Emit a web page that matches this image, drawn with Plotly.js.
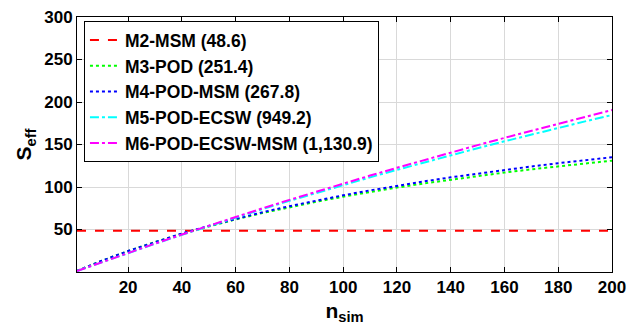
<!DOCTYPE html>
<html>
<head>
<meta charset="utf-8">
<script src="https://cdn.plot.ly/plotly-3.0.1.min.js"></script>
<style>html,body{margin:0;padding:0;background:#fff;}#chart{width:628px;height:334px;}</style>
</head>
<body>
<div id="chart"></div>
<script>
// Data
const nSim = [1, 10, 20, 30, 40, 50, 60, 70, 80, 90, 100, 110, 120, 130, 140, 150, 160, 170, 180, 190, 200];
const m2MSM = [48.6, 48.6, 48.6, 48.6, 48.6, 48.6, 48.6, 48.6, 48.6, 48.6, 48.6, 48.6, 48.6, 48.6, 48.6, 48.6, 48.6, 48.6, 48.6, 48.6, 48.6];
const m3POD = [1.36, 12.97, 24.67, 35.28, 44.93, 53.76, 61.87, 69.34, 76.24, 82.64, 88.58, 94.13, 99.30, 104.15, 108.70, 112.97, 117.00, 120.80, 124.39, 127.78, 131.01];
const m4PODMSM = [1.35, 12.96, 24.72, 35.44, 45.26, 54.28, 62.59, 70.29, 77.43, 84.07, 90.26, 96.05, 101.47, 106.56, 111.35, 115.86, 120.12, 124.15, 127.96, 131.58, 135.01];
const m5PODECSW = [1.15, 11.33, 22.39, 33.20, 43.75, 54.07, 64.15, 74.01, 83.65, 93.08, 102.31, 111.34, 120.18, 128.83, 137.31, 145.61, 153.75, 161.72, 169.53, 177.19, 184.70];
const m6PODECSWMSM = [1.14, 11.35, 22.47, 33.37, 44.06, 54.54, 64.83, 74.92, 84.82, 94.53, 104.07, 113.43, 122.62, 131.65, 140.52, 149.24, 157.79, 166.21, 174.48, 182.61, 190.60];
const seriesNames = ["M2-MSM (48.6)", "M3-POD (251.4)", "M4-POD-MSM (267.8)", "M5-POD-ECSW (949.2)", "M6-POD-ECSW-MSM (1,130.9)"];
const xTicks = [20, 40, 60, 80, 100, 120, 140, 160, 180, 200];
const yTicks = [50, 100, 150, 200, 250, 300];

const FONT = "'Liberation Sans', Arial, Helvetica, sans-serif";
const seriesData = [m2MSM, m3POD, m4PODMSM, m5PODECSW, m6PODECSWMSM];
const colors = ["#ff0000", "#00ff00", "#0000ff", "#00ffff", "#ff00ff"];
const dashes = ["dash", "dot", "dot", "dashdot", "dashdot"];

const traces = seriesData.map((ys, i) => ({
  x: nSim, y: ys, type: "scatter", mode: "lines", name: seriesNames[i],
  line: {color: colors[i], dash: dashes[i], width: 2}
}));

const layout = {
  width: 628, height: 334,
  margin: {l: 77, r: 16, t: 17, b: 62},
  paper_bgcolor: "#fff", plot_bgcolor: "#fff",
  font: {family: FONT, size: 17, color: "#000", weight: "bold"},
  showlegend: true,
  legend: {
    x: 0.013, y: 0.984, xanchor: "left", yanchor: "top",
    bgcolor: "#fff", bordercolor: "#000", borderwidth: 1,
    font: {family: FONT, size: 17.5, color: "#000", weight: "bold"},
    tracegroupgap: 0
  },
  xaxis: {
    range: [1, 200], tickvals: xTicks, ticktext: xTicks.map(String),
    ticks: "inside", ticklen: 5, tickcolor: "#000",
    showline: true, linecolor: "#000", linewidth: 1, mirror: "ticks",
    showgrid: true, gridcolor: "#d9d9d9", gridwidth: 1, zeroline: false,
    tickfont: {family: FONT, size: 17, color: "#000", weight: "bold"},
    title: {text: "n<sub>sim</sub>", font: {family: FONT, size: 21, color: "#000", weight: "bold"}, standoff: 6}
  },
  yaxis: {
    range: [0, 300], tickvals: yTicks, ticktext: yTicks.map(String),
    ticks: "inside", ticklen: 5, tickcolor: "#000",
    showline: true, linecolor: "#000", linewidth: 1, mirror: "ticks",
    showgrid: true, gridcolor: "#d9d9d9", gridwidth: 1, zeroline: false,
    tickfont: {family: FONT, size: 17, color: "#000", weight: "bold"},
    title: {text: "S<sub>eff</sub>", font: {family: FONT, size: 21, color: "#000", weight: "bold"}, standoff: 6}
  }
};

Plotly.newPlot("chart", traces, layout, {staticPlot: true, displayModeBar: false});
</script>
</body>
</html>
